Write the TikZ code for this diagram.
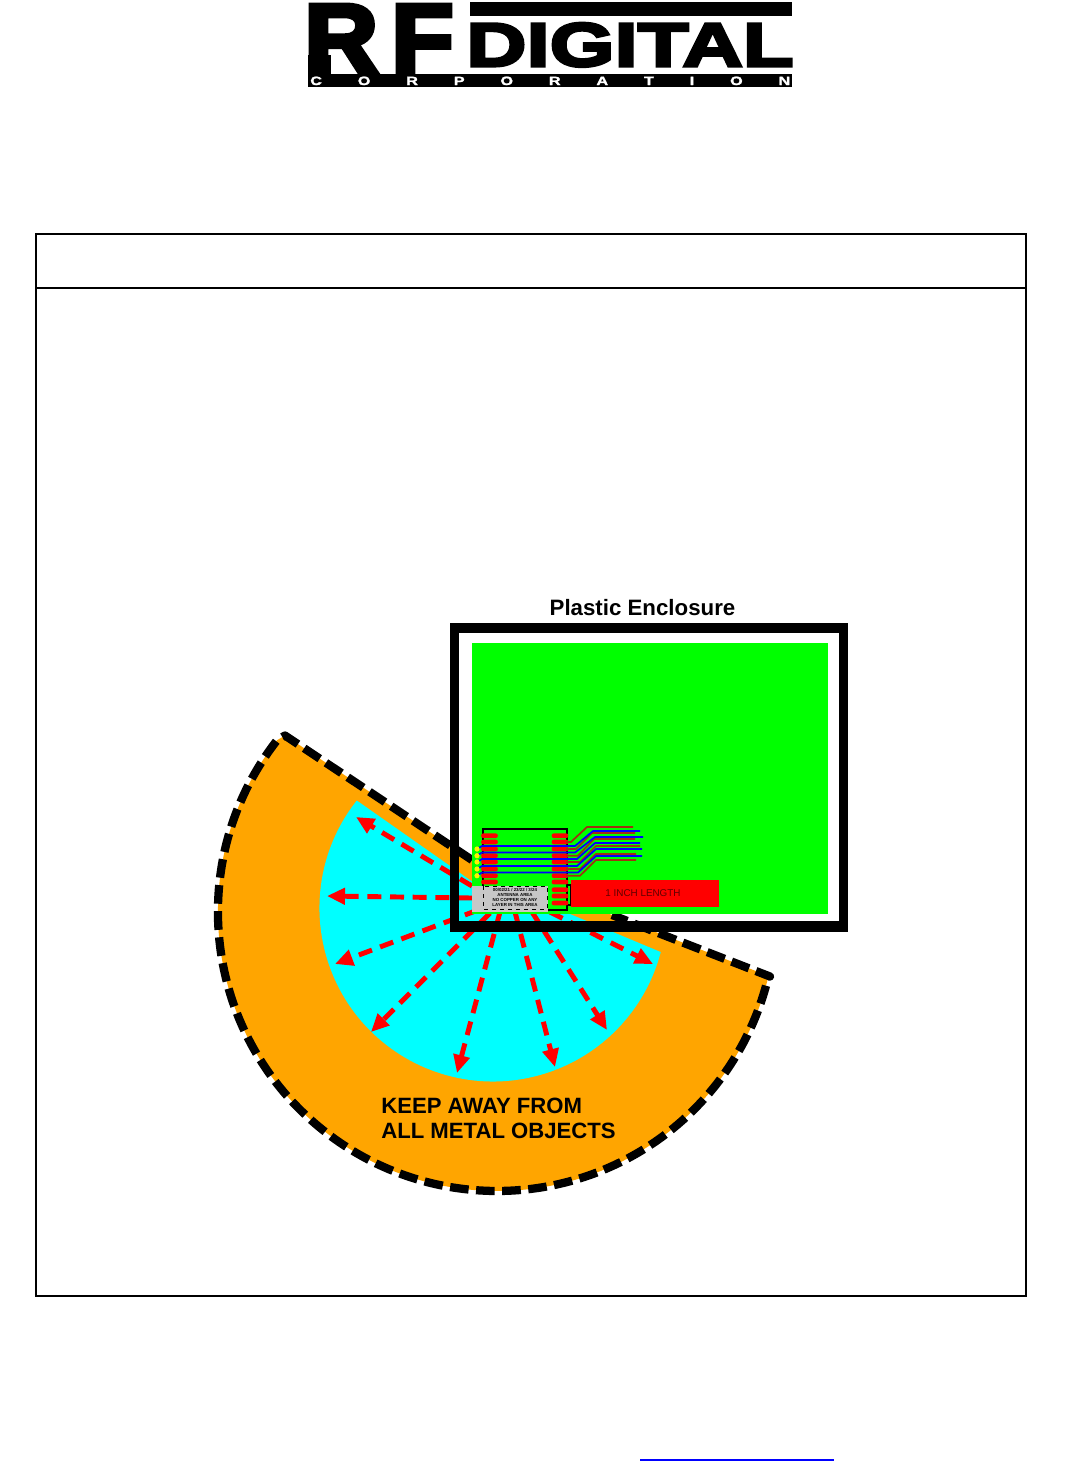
\documentclass[tikz,border=0pt]{standalone}
\usepackage{fontspec}
\setmainfont{Liberation Sans}
\newfontfamily\logorf[BoldFeatures={FakeBold=5,FakeStretch=1.05}]{Liberation Sans}
\newfontfamily\logodg[BoldFeatures={FakeBold=5,FakeStretch=1.36}]{Liberation Sans}
\newfontfamily\logocp[BoldFeatures={FakeBold=2,FakeStretch=1.35}]{Liberation Sans}
\usetikzlibrary{arrows.meta}
\definecolor{keeporange}{HTML}{FFA500}
\definecolor{tracebrown}{HTML}{A03010}
\definecolor{fieldcyan}{HTML}{00FFFF}
\definecolor{boardgreen}{HTML}{00FF00}
\definecolor{padred}{HTML}{FF0000}
\definecolor{inchtext}{HTML}{600000}
\tikzset{
  x=0.75pt,y=-0.75pt,
  framebox/.style={draw=black,line width=1.1pt},
  keepedge/.style={draw=black,line width=6.2pt,line join=round,dash pattern=on 14pt off 5.6pt},
  radarrow/.style={draw=padred,line width=3.7pt,dash pattern=on 10.5pt off 6.5pt,-{Triangle[length=13.5pt,width=12pt,fill=padred]}},
  padshape/.style={fill=padred,rounded corners=1.6pt,inner sep=0pt,minimum width=12.5pt,minimum height=3.5pt},
  bluetrace/.style={draw=blue,line width=1.3pt},
  browntrace/.style={draw=tracebrown,line width=1.3pt},
  labeltext/.style={font=\fontsize{16.6pt}{18.6pt}\selectfont\bfseries,align=left,inner sep=0pt},
  tiny/.style={font=\fontsize{3.3pt}{3.9pt}\selectfont\bfseries,align=center,inner sep=0pt}
}
\begin{document}
\begin{tikzpicture}
\useasboundingbox (0,0) rectangle (1080,1461);
\fill[white] (0,0) rectangle (1080,1461);
% logo
\fill[black] (470,2) rectangle (792,16);
\fill[black] (308,74) rectangle (792,87);
\node[anchor=base west,inner sep=0pt] (logorf) at (304,72) {\logorf\bfseries\fontsize{73pt}{73pt}\selectfont R\kern 10pt F};
\fill[black] (308,55) rectangle (331,75);
\node[anchor=base west,inner sep=0pt] (logodig) at (466,66) {\logodg\bfseries\fontsize{46pt}{46pt}\selectfont DIGITAL};
\node[anchor=base west,inner sep=0pt,text=white] (logocorp) at (310,85) {\logocp\bfseries\fontsize{9pt}{9pt}\selectfont\hbox to 360pt{C\hfil O\hfil R\hfil P\hfil O\hfil R\hfil A\hfil T\hfil I\hfil O\hfil N}};
% page frame
\draw[framebox] (36,234) rectangle (1026,1296);
\draw[framebox] (36,288) -- (1026,288);
% link underline
\draw[blue,line width=1.1pt] (640,1460) -- (834,1460);
% sector
\coordinate (tipL) at (285,735.5);
\coordinate (arcL) at (277.1,740.2);
\coordinate (tipR) at (770,976.5);
\coordinate (endL) at (472,860);
\coordinate (endR) at (612,915);
\fill[keeporange] (tipL) -- (arcL) arc[start angle=218,end angle=13.4,radius=279] -- (tipR) -- (endR) -- (endL) -- cycle;
\draw[keepedge] (endL) -- (tipL) -- (arcL) arc[start angle=218,end angle=13.4,radius=279] -- (tipR) -- (endR);
% inner cyan
\coordinate (cyanL) at (356.8,800.5);
\fill[fieldcyan] (cyanL) arc[start angle=218.3,end angle=14.7,radius=173.5] -- (570,914) -- (480,887) -- cycle;
% arrows
\coordinate (a1s) at (472,886); \coordinate (a1e) at (356,817);
\coordinate (a2s) at (472,898); \coordinate (a2e) at (327,896);
\coordinate (a3s) at (478,910); \coordinate (a3e) at (335,964);
\coordinate (a4s) at (490,913); \coordinate (a4e) at (371,1032);
\coordinate (a5s) at (500,912); \coordinate (a5e) at (457,1073);
\coordinate (a6s) at (515,912); \coordinate (a6e) at (555,1067);
\coordinate (a7s) at (532,912); \coordinate (a7e) at (607,1030);
\coordinate (a8s) at (550,912); \coordinate (a8e) at (653,964);
\foreach \i in {1,...,8} {\draw[radarrow] (a\i s) -- (a\i e);}
% board
\fill[boardgreen] (472,643) rectangle (828,914);
\draw[black,line width=1.4pt] (483,829) rectangle (567,910);
\draw[black,line width=0.8pt] (567,885) rectangle (571,905);
\fill[padred] (571,880) rectangle (719,907);
\node[font=\fontsize{7.4pt}{8pt}\selectfont,text=inchtext,inner sep=0pt] (inchlabel) at (643,893) {1 INCH LENGTH};
% pads
\foreach \y in {835.7,842,849,855.7,862,869,875.7,882} {
  \node[padshape] at (489.5,\y) {};
}
\foreach \y in {835.7,842,849,855.7,862,869,875.7,882,889.7,896,903} {
  \node[padshape] at (560,\y) {};
}
% antenna area
\fill[black!22] (472,886) rectangle (548,912);
\draw[black,line width=0.7pt,dashed] (483,886) rectangle (547,909);
\node[tiny] (antlabel) at (515,897.5) {00/02/21 / 23/22 / 3/24\\ANTENNA AREA\\NO COPPER ON ANY\\LAYER IN THIS AREA};
% traces
\draw[browntrace] (566,842) -- (571,842) -- (587,827) -- (633,827);
\draw[browntrace] (566,849) -- (576,849) -- (592,833) -- (635,833);
\draw[browntrace] (566,855.7) -- (578,855.7) -- (594,839) -- (635,839);
\draw[browntrace] (566,862) -- (580,862) -- (596,846) -- (640,846);
\draw[browntrace] (566,869) -- (580,869) -- (596,854) -- (636,854);
\draw[browntrace] (566,875.7) -- (580,875.7) -- (596,860) -- (636,860);
\draw[bluetrace] (477,849) -- (482,846) -- (575,846) -- (593,831) -- (640,831);
\draw[bluetrace] (477,855.7) -- (482,852.5) -- (575,852.5) -- (595,837) -- (643,837);
\draw[bluetrace] (477,862) -- (482,859) -- (577,859) -- (595,843) -- (640,843);
\draw[bluetrace] (477,869) -- (482,866) -- (577,866) -- (596,849) -- (642,849);
\draw[bluetrace] (477,875.7) -- (482,872.5) -- (578,872.5) -- (596,856) -- (642,856);
\foreach \y in {849,855.7,862,869,875.7} {
  \fill[yellow] (477,\y) circle[radius=2.6];
}
% enclosure
\draw[black,line width=7.2pt] (454.5,628) -- (843.5,628) -- (843.5,926.5) -- (454.5,926.5) -- cycle;
\fill[black] (450,921) rectangle (848,932);
\node[font=\fontsize{16.7pt}{20pt}\selectfont\bfseries,inner sep=0pt] (enclabel) at (642.5,608) {Plastic Enclosure};
\node[labeltext,anchor=north west] (keeplabel) at (381,1098) {KEEP AWAY FROM\\ALL METAL OBJECTS};
\end{tikzpicture}
\end{document}
